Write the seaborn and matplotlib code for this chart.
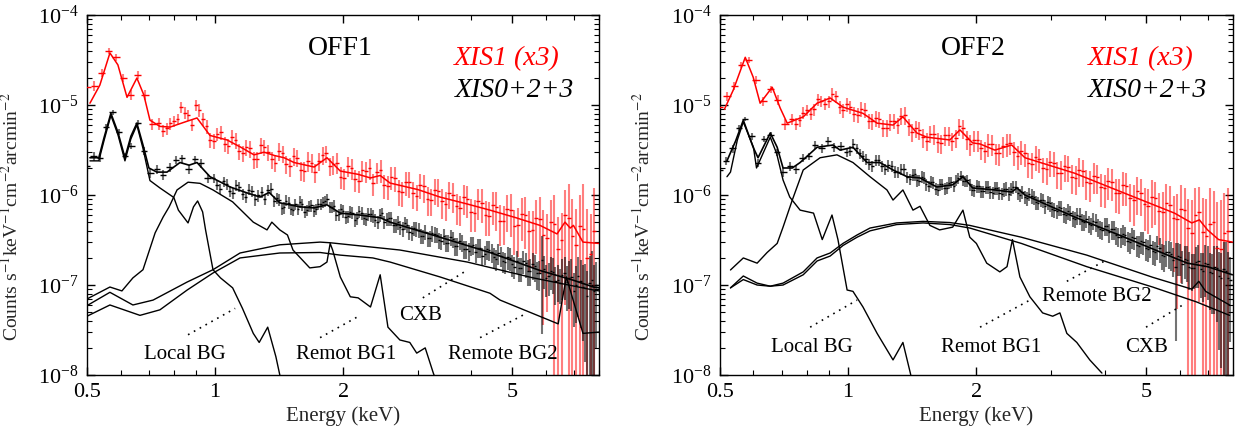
import numpy as np
import matplotlib
matplotlib.use("Agg")
import matplotlib.pyplot as plt
import seaborn as sns
from matplotlib.ticker import FixedLocator, FixedFormatter, NullFormatter, LogFormatterSciNotation

# ---------------- data (values in units of 1e-7 counts/s/keV/cm2/arcmin2) ----------------
U = 1e-7

# energy bins of the data points (keV)
BLACK_E = [0.500, 0.518, 0.536, 0.554, 0.574, 0.594, 0.615, 0.636, 0.658, 0.681,
           0.705, 0.730, 0.755, 0.782, 0.809, 0.837, 0.867, 0.897, 0.928, 0.961,
           0.994, 1.029, 1.065, 1.102, 1.141, 1.181, 1.222, 1.265, 1.309, 1.355,
           1.400, 1.435, 1.471, 1.508, 1.545, 1.584, 1.624, 1.664, 1.706, 1.748,
           1.792, 1.837, 1.883, 1.930, 1.978, 2.028, 2.078, 2.130, 2.184, 2.238,
           2.294, 2.352, 2.410, 2.471, 2.533, 2.596, 2.661, 2.727, 2.795, 2.865,
           2.937, 3.010, 3.086, 3.163, 3.242, 3.323, 3.406, 3.491, 3.578, 3.668,
           3.759, 3.853, 3.950, 4.048, 4.150, 4.253, 4.360, 4.469, 4.580, 4.695,
           4.812, 4.932, 5.056, 5.182, 5.312, 5.444, 5.581, 5.720, 5.863, 6.010,
           6.160, 6.314, 6.472, 6.634, 6.799, 6.969, 7.144, 7.322, 7.505, 7.693,
           7.885]
BLACK_E2 = [1.011, 1.047, 1.083, 1.121, 1.161, 1.201, 1.243, 1.287, 1.332, 1.377,
            1.417, 1.453, 1.489, 1.526, 1.564, 1.604, 1.644, 1.685, 1.727, 1.770,
            1.814, 1.860, 1.906, 1.954, 2.003, 2.053, 2.104, 2.157, 2.211, 2.266,
            2.323, 2.381, 2.440, 2.502, 2.564, 2.628, 2.694, 2.761, 2.830, 2.901,
            2.973, 3.048, 3.124, 3.202, 3.282, 3.364, 3.448, 3.534, 3.623, 3.713,
            3.806, 3.901, 3.999, 4.099, 4.201, 4.306, 4.414, 4.524, 4.637, 4.753,
            4.872, 4.994, 5.119, 5.247, 5.378, 5.512, 5.650, 5.791, 5.936, 6.085,
            6.237, 6.393, 6.553, 6.716, 6.884, 7.056, 7.233, 7.413, 7.599, 7.789]
RED_E = [0.500, 0.520, 0.541, 0.562, 0.585, 0.608, 0.633, 0.658, 0.684, 0.712,
         0.740, 0.770, 0.801, 0.833, 0.866, 0.901, 0.937, 0.974, 1.013, 1.054,
         1.096, 1.140, 1.185, 1.233, 1.282, 1.333, 1.387, 1.442, 1.500, 1.560,
         1.622, 1.687, 1.755, 1.825, 1.898, 1.974, 2.053, 2.135, 2.220, 2.309,
         2.402, 2.498, 2.598, 2.701, 2.809, 2.922, 3.038, 3.160, 3.286, 3.418,
         3.554, 3.697, 3.845, 3.998, 4.158, 4.325, 4.498, 4.678, 4.865, 5.059,
         5.262, 5.472, 5.691, 5.919, 6.156, 6.402, 6.658, 6.925, 7.202, 7.490,
         7.789]
RED_E2 = [0.755, 0.785, 0.817, 0.849, 0.883, 0.919, 0.955, 0.993, 1.033, 1.075,
          1.118, 1.162, 1.209, 1.257, 1.307, 1.360, 1.414, 1.471, 1.530, 1.591,
          1.654, 1.721, 1.790, 1.861, 1.936, 2.013, 2.094, 2.177, 2.264, 2.355,
          2.450, 2.548, 2.649, 2.755, 2.865, 2.979, 3.098, 3.222, 3.351, 3.486,
          3.625, 3.771, 3.921, 4.077, 4.241, 4.411, 4.588, 4.771, 4.961, 5.160,
          5.366, 5.581, 5.804, 6.036, 6.278, 6.529, 6.790, 7.062, 7.345, 7.638]

# fractional 1-sigma errors
BLACK_RELERR = [0.14, 0.11, 0.10, 0.07, 0.06, 0.08, 0.10, 0.08, 0.07, 0.09,
                0.11, 0.11, 0.12, 0.11, 0.10, 0.10, 0.11, 0.10, 0.11, 0.12,
                0.12, 0.13, 0.13, 0.14, 0.13, 0.14, 0.14, 0.15, 0.14, 0.14,
                0.14, 0.15, 0.14, 0.15, 0.14, 0.15, 0.15, 0.14, 0.15, 0.14,
                0.14, 0.13, 0.14, 0.15, 0.15, 0.16, 0.15, 0.16, 0.15, 0.16,
                0.16, 0.17, 0.16, 0.15, 0.16, 0.17, 0.17, 0.18, 0.17, 0.18,
                0.18, 0.19, 0.18, 0.19, 0.20, 0.19, 0.20, 0.21, 0.20, 0.22,
                0.21, 0.22, 0.23, 0.22, 0.24, 0.23, 0.25, 0.24, 0.26, 0.25,
                0.27, 0.28, 0.27, 0.30, 0.29, 0.32, 0.33, 0.35, 0.85, 0.38,
                0.40, 0.45, 0.42, 0.50, 0.55, 0.60, 0.65, 0.75, 0.90, 1.10,
                0.80]
BLACK_RELERR2 = [0.13, 0.13, 0.14, 0.14, 0.14, 0.14, 0.15, 0.15, 0.14, 0.14,
                 0.15, 0.15, 0.15, 0.15, 0.15, 0.15, 0.15, 0.15, 0.15, 0.14,
                 0.14, 0.14, 0.15, 0.15, 0.16, 0.16, 0.16, 0.16, 0.16, 0.16,
                 0.17, 0.17, 0.16, 0.16, 0.17, 0.17, 0.18, 0.18, 0.18, 0.18,
                 0.19, 0.19, 0.19, 0.20, 0.20, 0.20, 0.21, 0.21, 0.21, 0.22,
                 0.22, 0.23, 0.23, 0.23, 0.24, 0.24, 0.25, 0.25, 0.26, 0.26,
                 0.28, 0.28, 0.29, 0.30, 0.31, 0.33, 0.34, 0.36, 0.40, 0.39,
                 0.43, 0.44, 0.48, 0.52, 0.58, 0.62, 0.70, 0.85, 1.00, 0.95]
RED_RELERR = [0.12, 0.12, 0.10, 0.08, 0.08, 0.10, 0.12, 0.10, 0.12, 0.14,
              0.15, 0.15, 0.14, 0.15, 0.14, 0.15, 0.16, 0.18, 0.17, 0.18,
              0.19, 0.20, 0.20, 0.22, 0.20, 0.21, 0.22, 0.22, 0.24, 0.22,
              0.25, 0.24, 0.23, 0.22, 0.24, 0.27, 0.25, 0.28, 0.26, 0.27,
              0.27, 0.30, 0.29, 0.32, 0.30, 0.33, 0.31, 0.35, 0.32, 0.36,
              0.34, 0.38, 0.36, 0.40, 0.38, 0.42, 0.40, 0.48, 0.44, 0.52,
              0.50, 0.65, 0.60, 0.90, 0.75, 1.30, 0.90, 1.60, 1.20, 2.50,
              2.00]
RED_RELERR2 = [0.15, 0.15, 0.15, 0.15, 0.15, 0.16, 0.17, 0.18, 0.18, 0.19,
               0.20, 0.20, 0.21, 0.21, 0.21, 0.22, 0.22, 0.23, 0.23, 0.24,
               0.24, 0.24, 0.23, 0.23, 0.26, 0.26, 0.27, 0.27, 0.27, 0.28,
               0.29, 0.30, 0.31, 0.31, 0.32, 0.32, 0.34, 0.34, 0.35, 0.36,
               0.37, 0.37, 0.39, 0.39, 0.41, 0.41, 0.46, 0.46, 0.50, 0.55,
               0.58, 0.62, 0.75, 0.85, 1.10, 1.00, 1.40, 1.50, 2.20, 1.80]

# ---- OFF1 ----
OFF1_BLACK_DATA = [21, 27, 26, 57, 83, 50, 27, 35, 64, 31,
                   17.5, 19.5, 16.8, 20.5, 24.5, 25.5, 19.5, 25, 22.5, 15.5,
                   15.5, 11.8, 13.2, 10.6, 12.4, 9.6, 11.2, 9.9, 9.1, 11.8,
                   9.2, 7.1, 8.7, 7.0, 7.9, 8.4, 6.5, 7.5, 6.7, 8.0,
                   8.3, 9.1, 7.3, 6.0, 7.0, 5.7, 6.5, 5.3, 6.6, 5.5,
                   6.2, 5.9, 5.0, 6.3, 5.4, 5.5, 4.6, 4.4, 4.9, 3.9,
                   4.3, 4.1, 3.5, 3.3, 3.8, 3.6, 3.1, 2.95, 3.4, 2.7,
                   3.1, 2.5, 2.4, 2.8, 2.6, 2.1, 2.5, 2.3, 1.95, 2.1,
                   1.8, 2.0, 1.6, 1.55, 1.85, 1.45, 1.7, 1.35, 1.9, 1.2,
                   1.45, 1.1, 1.05, 1.35, 1.2, 0.85, 1.25, 0.95, 0.75, 1.15,
                   1.0]
OFF1_BLACK_DATA2 = [13.0, 14.2, 11.2, 12.8, 10.2, 11.5, 9.0, 10.8, 11.4, 8.6,
                    8.9, 7.3, 8.2, 6.9, 7.0, 7.9, 6.8, 7.7, 7.0, 7.9,
                    8.6, 7.4, 7.6, 6.1, 6.7, 5.8, 6.4, 5.6, 6.3, 5.4,
                    6.1, 5.3, 6.0, 5.0, 5.5, 4.6, 5.0, 4.2, 4.6, 3.8,
                    4.2, 3.55, 3.9, 3.3, 3.7, 3.15, 3.5, 2.95, 3.25, 2.7,
                    2.95, 2.5, 2.75, 2.3, 2.6, 2.2, 2.45, 2.05, 2.25, 1.85,
                    2.05, 1.7, 1.85, 1.55, 1.75, 1.45, 1.62, 1.35, 1.5, 1.25,
                    1.4, 1.15, 1.3, 1.08, 1.22, 1.0, 1.12, 0.92, 1.05, 0.86]
OFF1_RED_DATA = [160, 165, 230, 400, 340, 200, 130, 215, 130, 62,
                 63, 55, 66, 95, 78, 100, 70, 41, 48, 37,
                 44, 31, 34, 25, 36, 30, 23, 29, 21, 26,
                 18.5, 23, 24, 29, 22, 16, 21, 15, 19, 20,
                 18, 13, 16, 11, 14, 10.5, 13, 9, 11.5, 8.5,
                 10.5, 7.5, 9.5, 6.5, 8.5, 6.0, 7.8, 5.2, 7.0, 4.5,
                 6.2, 4.0, 5.5, 3.6, 5.0, 2.5, 6.0, 3.5, 4.5, 2.0,
                 4.0]
OFF1_RED_DATA2 = [52, 63, 70, 82, 60, 88, 58, 40, 50, 35,
                  41, 29, 33, 25, 34, 25, 31, 22, 27, 19,
                  24, 18, 28, 21, 23, 15.5, 20, 14.5, 18.5, 13.5,
                  19, 12.5, 15.5, 10.8, 13.8, 9.8, 12.5, 8.8, 11.2, 8.0,
                  10.0, 7.2, 9.0, 6.4, 8.2, 5.9, 7.4, 5.2, 6.8, 4.6,
                  6.0, 4.1, 5.4, 3.3, 4.8, 3.2, 5.5, 2.8, 4.2, 2.2]
OFF1_RED_MODEL_E = [0.508, 0.536, 0.566, 0.591, 0.621, 0.655, 0.680, 0.703, 0.742, 0.784,
                    0.850, 0.907, 0.973, 1.067, 1.150, 1.235, 1.304, 1.380, 1.453, 1.534,
                    1.710, 1.833, 1.970, 2.170, 2.320, 2.445, 2.580, 3.000, 3.380, 3.900,
                    4.430, 5.100, 5.810, 6.370, 6.650, 6.840, 6.960, 7.330, 8.000]
OFF1_RED_MODEL_V = [105, 167, 380, 280, 122, 200, 130, 68, 58, 57,
                    65, 72, 46, 41, 34, 28, 30, 27.5, 26, 23,
                    20.5, 26, 18.5, 17, 15.5, 16.5, 13.6, 11.5, 9.5, 8.0,
                    6.8, 5.6, 4.6, 3.7, 5.0, 4.3, 4.6, 3.0, 2.9]
OFF1_TOTAL_E = [0.508, 0.533, 0.548, 0.569, 0.591, 0.614, 0.634, 0.655, 0.677, 0.699,
                0.730, 0.771, 0.827, 0.869, 0.907, 0.973, 1.085, 1.180, 1.276, 1.340,
                1.420, 1.585, 1.710, 1.833, 1.970, 2.190, 2.445, 2.580, 3.380, 4.430,
                5.810, 6.960, 7.760, 8.000]
OFF1_TOTAL_V = [26, 26, 43, 81, 50, 26, 45, 63, 36, 20,
                18, 18, 23, 21.5, 23, 16, 12.3, 10.7, 9.5, 10.7,
                8.2, 7.4, 7.2, 7.8, 6.3, 6.0, 5.6, 5.0, 3.4, 2.3,
                1.45, 1.13, 0.95, 0.93]
OFF1_LOCAL_E = [0.508, 0.533, 0.548, 0.569, 0.591, 0.614, 0.634, 0.655, 0.677, 0.703,
                0.742, 0.800, 0.820, 0.864, 0.890, 0.910, 0.935, 0.950, 0.989, 1.030,
                1.100, 1.160, 1.230, 1.270, 1.330, 1.390, 1.420, 1.450]
OFF1_LOCAL_V = [24, 24, 40, 77, 47, 24, 42, 60, 33, 14.5,
                12, 9.4, 6.8, 4.9, 7.4, 8.6, 6.5, 4.1, 1.48, 1.2,
                0.93, 0.55, 0.29, 0.23, 0.34, 0.16, 0.10, 0.05]
OFF1_RBG1_E = [0.500, 0.566, 0.604, 0.641, 0.677, 0.723, 0.755, 0.780, 0.814, 0.864,
               0.922, 0.989, 1.100, 1.230, 1.325, 1.360, 1.420, 1.480, 1.525, 1.670,
               1.766, 1.833, 1.865, 1.890, 1.970, 2.080, 2.170, 2.320, 2.445, 2.550,
               2.720, 2.870, 2.980, 3.120, 3.260, 3.300]
OFF1_RBG1_V = [0.70, 0.95, 0.86, 1.2, 1.48, 3.8, 5.7, 7.4, 11.4, 13.9,
               13.5, 11.4, 8.4, 5.0, 4.1, 5.0, 4.1, 3.6, 2.45, 1.55,
               1.6, 1.8, 2.9, 2.45, 1.23, 0.74, 0.72, 0.57, 1.3, 0.34,
               0.245, 0.23, 0.175, 0.2, 0.105, 0.09]
OFF1_CXB_E = [0.500, 0.566, 0.641, 0.715, 0.860, 0.989, 1.145, 1.420, 1.766, 1.865,
              2.720, 3.920, 5.600, 7.760, 8.000]
OFF1_CXB_V = [0.59, 0.83, 0.60, 0.68, 1.08, 1.48, 2.27, 2.8, 3.0, 2.95,
              2.45, 1.8, 1.2, 0.88, 0.86]
OFF1_RBG2_E = [0.500, 0.566, 0.666, 0.742, 0.860, 0.989, 1.145, 1.420, 1.766, 1.970,
               2.350, 2.580, 3.380, 4.430, 4.680, 6.410, 6.550, 6.700, 6.950, 7.330,
               8.000]
OFF1_RBG2_V = [0.45, 0.60, 0.46, 0.53, 0.88, 1.36, 2.0, 2.27, 2.3, 2.15,
               2.0, 1.8, 1.23, 0.81, 0.68, 0.37, 0.68, 1.23, 0.68, 0.29,
               0.30]

# ---- OFF2 ----
OFF2_BLACK_DATA = [19, 24, 33, 56, 70, 45, 23, 42, 47, 30,
                   18, 21, 19.5, 26, 27, 36, 33, 40, 34, 35,
                   30, 37, 29, 25, 21, 24.5, 19.5, 21, 18, 19.5,
                   15, 17, 14.5, 15.5, 12.6, 13.8, 11.5, 13.3, 12.0, 13.8,
                   14.5, 16.5, 14.2, 13.2, 11.3, 12.5, 11.0, 12.2, 10.6, 11.9,
                   10.4, 11.8, 11.6, 12.4, 10.0, 9.6, 10.3, 9.4, 8.2, 8.8,
                   8.3, 7.0, 6.6, 7.2, 6.0, 6.3, 5.4, 5.9, 5.0, 4.8,
                   5.2, 4.4, 4.1, 4.5, 4.2, 3.6, 3.4, 3.6, 3.0, 3.3,
                   2.75, 3.0, 2.5, 2.4, 2.7, 2.15, 2.35, 2.2, 1.6, 2.05,
                   1.95, 1.6, 1.55, 1.85, 1.45, 1.7, 1.35, 1.55, 1.2, 1.45,
                   1.15]
OFF2_BLACK_DATA2 = [31, 33, 27, 22, 24.5, 21, 21.5, 18.2, 19.6, 16,
                    16.8, 14.6, 16, 13.2, 14.0, 11.8, 13.2, 11.9, 13.7, 12.7,
                    15.6, 14.5, 14.6, 11.5, 12.6, 11.0, 12.2, 10.8, 12.0, 10.5,
                    11.6, 10.4, 12.2, 10.5, 10.8, 9.2, 9.8, 8.3, 8.9, 7.5,
                    8.1, 6.8, 7.3, 6.1, 6.6, 5.5, 5.95, 5.1, 5.45, 4.6,
                    5.0, 4.2, 4.55, 3.85, 4.15, 3.45, 3.7, 3.1, 3.4, 2.8,
                    3.05, 2.55, 2.8, 2.3, 2.55, 2.1, 2.3, 1.9, 2.1, 1.7,
                    1.9, 1.55, 1.8, 1.5, 1.75, 1.4, 1.6, 1.25, 1.5, 1.2]
OFF2_RED_DATA = [95, 125, 165, 280, 320, 190, 110, 150, 115, 62,
                 70, 68, 88, 90, 112, 110, 125, 88, 95, 78,
                 88, 66, 70, 56, 67, 76, 58, 55, 44, 48,
                 39, 46, 40, 58, 42, 41, 33, 37, 29, 35,
                 38, 27, 29, 22, 25, 19.5, 23, 17.5, 20.5, 15.5,
                 18.5, 13.5, 16, 12, 14, 10.5, 12.5, 8.8, 10.5, 7.6,
                 9.2, 6.5, 7.8, 5.4, 6.8, 3.8, 6.5, 3.5, 5.0, 2.5,
                 4.0]
OFF2_RED_DATA2 = [62, 82, 80, 116, 104, 132, 96, 102, 80, 90,
                  67, 72, 56, 66, 60, 78, 50, 53, 40, 48,
                  38, 46, 43, 55, 37, 41, 31, 37, 29, 37,
                  30, 31, 22.5, 26.5, 19.8, 23.5, 17.5, 21, 15.8, 19,
                  14, 16.5, 12.2, 14.5, 10.6, 12.8, 9.2, 11, 7.9, 9.5,
                  6.7, 8.2, 5.6, 7.0, 4.3, 6.0, 3.9, 4.8, 2.6, 3.8]
OFF2_RED_MODEL_E = [0.513, 0.538, 0.574, 0.599, 0.622, 0.664, 0.693, 0.720, 0.785, 0.846,
                    0.908, 0.973, 1.084, 1.170, 1.275, 1.345, 1.450, 1.530, 1.733, 1.830,
                    1.960, 2.040, 2.210, 2.420, 2.600, 3.400, 4.450, 5.830, 6.400, 6.670,
                    6.970, 7.400, 7.970]
OFF2_RED_MODEL_V = [90, 147, 340, 205, 105, 158, 93, 63, 74, 105,
                    120, 95, 81, 63, 60, 74, 49, 44, 41, 53,
                    38, 37, 31.6, 36, 26, 17.5, 10.5, 6.3, 4.9, 5.3,
                    4.1, 3.2, 3.0]
OFF2_TOTAL_E = [0.520, 0.545, 0.568, 0.599, 0.615, 0.657, 0.682, 0.704, 0.740, 0.772,
                0.846, 0.922, 0.958, 1.027, 1.108, 1.188, 1.275, 1.375, 1.475, 1.615,
                1.760, 1.860, 1.960, 2.210, 2.420, 2.490, 2.600, 3.400, 4.450, 5.830,
                6.250, 6.970, 7.970]
OFF2_TOTAL_V = [24, 40, 68, 34, 26, 49, 34, 20, 20, 23,
                34, 36, 31.6, 34, 23, 23, 19, 16, 15.5, 12.3,
                13, 16, 12, 11.4, 10.8, 12, 10, 5.7, 3.4, 2.0,
                1.75, 1.6, 1.3]
OFF2_LOCAL_E = [0.520, 0.530, 0.550, 0.568, 0.600, 0.610, 0.657, 0.680, 0.704, 0.730,
                0.772, 0.830, 0.870, 0.917, 0.947, 0.995, 1.027, 1.084, 1.170, 1.275,
                1.345, 1.400, 1.410]
OFF2_LOCAL_V = [16, 18, 41, 65, 34, 20, 44, 29, 14.7, 9.5,
                6.8, 6.3, 3.2, 6.0, 3.2, 0.88, 0.85, 0.57, 0.29, 0.147,
                0.23, 0.105, 0.09]
OFF2_RBG1_E = [0.530, 0.568, 0.612, 0.646, 0.682, 0.704, 0.740, 0.785, 0.860, 0.942,
               1.027, 1.126, 1.234, 1.275, 1.345, 1.420, 1.475, 1.556, 1.640, 1.760,
               1.860, 1.930, 2.000, 2.115, 2.270, 2.360, 2.430, 2.530, 2.670, 2.860,
               3.020, 3.140, 3.260, 3.440, 3.690, 3.940]
OFF2_RBG1_V = [1.47, 2.0, 1.75, 2.3, 2.9, 4.4, 8.8, 19, 26, 28,
               23, 16, 11.4, 8.8, 11.4, 6.8, 7.5, 4.6, 4.1, 4.4,
               6.8, 3.4, 2.9, 1.75, 1.4, 1.6, 3.2, 1.23, 0.74, 0.49,
               0.45, 0.49, 0.29, 0.23, 0.147, 0.105]
OFF2_RBG2_E = [0.530, 0.568, 0.612, 0.657, 0.704, 0.785, 0.846, 0.908, 0.973, 1.050,
               1.126, 1.300, 1.500, 1.733, 1.930, 2.550, 3.630, 5.180, 6.400, 6.650,
               6.900, 7.850]
OFF2_RBG2_V = [0.93, 1.26, 1.05, 0.97, 1.05, 1.4, 2.0, 2.27, 2.9, 3.6,
               4.3, 4.9, 5.1, 4.95, 4.6, 3.4, 2.15, 1.22, 0.9, 1.1,
               0.85, 0.6]
OFF2_CXB_E = [0.530, 0.568, 0.612, 0.657, 0.704, 0.785, 0.846, 0.908, 0.973, 1.050,
              1.126, 1.300, 1.500, 1.733, 1.930, 2.550, 3.630, 5.180, 6.560, 7.850]
OFF2_CXB_V = [0.93, 1.15, 1.0, 0.97, 1.0, 1.3, 1.85, 2.1, 2.75, 3.4,
              4.0, 4.7, 4.9, 4.7, 4.3, 2.9, 1.6, 0.95, 0.65, 0.46]

X_TICKS = [0.5, 1, 2, 5]
X_TICK_LABELS = ["0.5", "1", "2", "5"]
X_MINOR = [0.6, 0.7, 0.8, 0.9, 3, 4, 6, 7, 8]

# component labels: text, text position (E, value), dotted leader from -> to
OFF1_LABELS = [("Local BG", 0.85, 1.67e-8, (0.864, 2.8e-8), (1.115, 5.5e-8)),
               ("Remot BG1", 2.03, 1.67e-8, (1.766, 2.6e-8), (2.194, 4.6e-8)),
               ("CXB", 3.05, 4.6e-8, (3.08, 7.2e-8), (3.92, 1.47e-7)),
               ("Remote BG2", 4.76, 1.67e-8, (4.2, 2.6e-8), (5.42, 4.9e-8))]
OFF2_LABELS = [("Local BG", 0.823, 2.0e-8, (0.815, 3.4e-8), (1.05, 6.8e-8)),
               ("Remot BG1", 2.17, 2.0e-8, (2.04, 3.4e-8), (2.67, 6.8e-8)),
               ("Remote BG2", 3.83, 7.4e-8, (3.26, 1.1e-7), (4.04, 1.9e-7)),
               ("CXB", 5.01, 2.0e-8, (5.0, 3.4e-8), (6.2, 6.3e-8))]

# ---------------- style ----------------
sns.set_theme(style="ticks")
plt.rcParams['font.family'] = ['Liberation Serif', 'DejaVu Serif']
plt.rcParams['mathtext.fontset'] = 'stix'
plt.rcParams['axes.linewidth'] = 1.0

fig = plt.figure(figsize=(12.43, 4.33), dpi=100)
ax1 = fig.add_axes([0.070, 0.134, 0.412, 0.831])
ax2 = fig.add_axes([0.579, 0.134, 0.413, 0.831])


def half_widths(E):
    E = np.asarray(E, float)
    edges = np.sqrt(E[1:] * E[:-1])
    lo = np.concatenate([[E[0] * E[0] / edges[0]], edges])
    hi = np.concatenate([edges, [E[-1] * E[-1] / edges[-1]]])
    return E - lo, hi - E


def draw_data(ax, Es, vals, relerrs, color, bar_alpha):
    E = np.concatenate([np.asarray(e, float) for e in Es])
    v = np.concatenate([np.asarray(x, float) for x in vals]) * U
    r = np.concatenate([np.asarray(x, float) for x in relerrs])
    order = np.argsort(E)
    E, v, r = E[order], v[order], r[order]
    err = v * r
    lower = np.maximum(v - err, 1e-12)
    xl, xh = half_widths(E)
    ax.errorbar(E, v, yerr=[v - lower, err], fmt='none', ecolor=color,
                alpha=bar_alpha, elinewidth=1.5, capsize=0, zorder=2)
    ax.errorbar(E, v, xerr=[xl, xh], fmt='none', ecolor=color,
                elinewidth=1.0, capsize=0, zorder=3)


def draw_line(ax, E, V, color, lw=1.0, z=4):
    sns.lineplot(x=np.asarray(E, float), y=np.asarray(V, float) * U, ax=ax,
                 color=color, lw=lw, estimator=None, sort=False, zorder=z)


def panel(ax, title, red_d, red_d2, red_mE, red_mV, blk_d, blk_d2, tot_E, tot_V, comps, labels):
    ax.set_xscale('log')
    ax.set_yscale('log')
    draw_data(ax, [RED_E, RED_E2], [red_d, red_d2], [RED_RELERR, RED_RELERR2],
              (1, 0, 0), 0.5)
    draw_data(ax, [BLACK_E, BLACK_E2], [blk_d, blk_d2], [BLACK_RELERR, BLACK_RELERR2],
              (0, 0, 0), 0.55)
    draw_line(ax, red_mE, red_mV, (1, 0, 0), 1.1)
    draw_line(ax, tot_E, tot_V, 'black', 1.2)
    for cE, cV in comps:
        draw_line(ax, cE, cV, 'black', 1.0)
    for txt, tx, ty, p0, p1 in labels:
        ax.text(tx, ty, txt, ha='center', va='center', fontsize=15, color='black')
        ax.plot([p0[0], p1[0]], [p0[1], p1[1]], color='black', lw=1.2,
                ls=(0, (1, 3)))
    ax.set_xlim(0.5, 8.0)
    ax.set_ylim(1e-8, 1e-4)
    ax.xaxis.set_major_locator(FixedLocator(X_TICKS))
    ax.xaxis.set_major_formatter(FixedFormatter(X_TICK_LABELS))
    ax.xaxis.set_minor_locator(FixedLocator(X_MINOR))
    ax.xaxis.set_minor_formatter(NullFormatter())
    ax.yaxis.set_major_formatter(LogFormatterSciNotation())
    ax.tick_params(which='both', direction='in', top=True, right=True,
                   labelsize=16, colors='black')
    ax.tick_params(which='major', length=6, width=1.0, pad=6)
    ax.tick_params(which='minor', length=3.5, width=0.8)
    for s in ax.spines.values():
        s.set_color('black')
        s.set_linewidth(1.0)
    ax.set_xlabel("Energy (keV)", fontsize=15, labelpad=3)
    ax.set_ylabel("Counts s$^{-1}$keV$^{-1}$cm$^{-2}$arcmin$^{-2}$", fontsize=14)
    ax.yaxis.set_label_coords(-0.128, 0.44)
    ax.text(0.494, 0.906, title, transform=ax.transAxes, ha='center', va='center',
            fontsize=20, color='black')
    ax.text(0.82, 0.88, "XIS1 (x3)", transform=ax.transAxes, ha='center', va='center',
            fontsize=20, color='red', style='italic')
    ax.text(0.834, 0.79, "XIS0+2+3", transform=ax.transAxes, ha='center', va='center',
            fontsize=20, color='black', style='italic')


panel(ax1, "OFF1", OFF1_RED_DATA, OFF1_RED_DATA2, OFF1_RED_MODEL_E, OFF1_RED_MODEL_V,
      OFF1_BLACK_DATA, OFF1_BLACK_DATA2, OFF1_TOTAL_E, OFF1_TOTAL_V,
      [(OFF1_LOCAL_E, OFF1_LOCAL_V), (OFF1_RBG1_E, OFF1_RBG1_V),
       (OFF1_CXB_E, OFF1_CXB_V), (OFF1_RBG2_E, OFF1_RBG2_V)], OFF1_LABELS)
panel(ax2, "OFF2", OFF2_RED_DATA, OFF2_RED_DATA2, OFF2_RED_MODEL_E, OFF2_RED_MODEL_V,
      OFF2_BLACK_DATA, OFF2_BLACK_DATA2, OFF2_TOTAL_E, OFF2_TOTAL_V,
      [(OFF2_LOCAL_E, OFF2_LOCAL_V), (OFF2_RBG1_E, OFF2_RBG1_V),
       (OFF2_RBG2_E, OFF2_RBG2_V), (OFF2_CXB_E, OFF2_CXB_V)], OFF2_LABELS)

fig.savefig("out.png", dpi=100, facecolor='white')
